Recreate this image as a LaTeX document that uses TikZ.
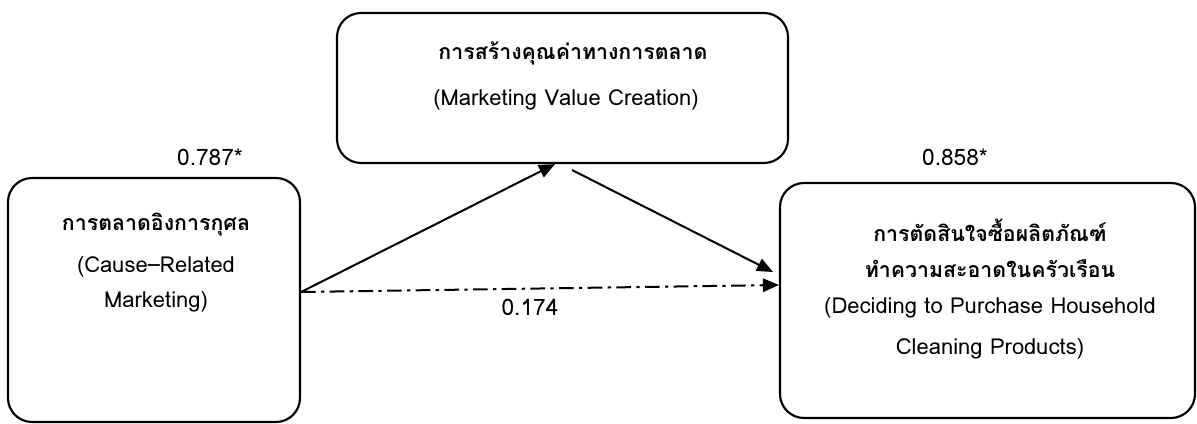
\documentclass[tikz,border=0pt]{standalone}
\usepackage{fontspec}
\setmainfont[Script=Thai]{Loma}
\usetikzlibrary{arrows.meta}
\begin{document}
\begin{tikzpicture}[x=0.75pt,y=-0.75pt,
  box/.style={draw,line width=1.6pt,rounded corners=18pt,inner sep=0pt},
  lbl/.style={font=\fontsize{17}{19}\selectfont,inner sep=0pt},
  th/.style={font=\bfseries\fontsize{16}{18}\selectfont,inner sep=0pt},
  en/.style={font=\fontsize{16.5}{18}\selectfont,inner sep=0pt},
  path/.style={line width=1.5pt,-{Triangle[length=12pt,width=10pt]}},
]
\useasboundingbox (0,0) rectangle (1197,424);

% the three constructs
\node[box,minimum width=292*0.75pt,minimum height=244*0.75pt] (crm) at (154,300) {};
\node[box,minimum width=451*0.75pt,minimum height=150*0.75pt] (mvc) at (562.5,88) {};
\node[box,minimum width=415*0.75pt,minimum height=235*0.75pt] (dec) at (987.5,300.5) {};

% texts inside the boxes
\node[th] (crmT) at (156,225) {การตลาดอิงการกุศล};
\node[en] (crmE1) at (156,267) {(Cause–Related};
\node[en] (crmE2) at (156,302) {Marketing)};

\node[th] (mvcT) at (573,53) {การสร้างคุณค่าทางการตลาด};
\node[en] (mvcE) at (566,100) {(Marketing Value Creation)};

\node[th] (decT1) at (990,230) {การตัดสินใจซื้อผลิตภัณฑ์};
\node[th] (decT2) at (990,269) {ทำความสะอาดในครัวเรือน};
\node[en] (decE1) at (990,308) {(Deciding to Purchase Household};
\node[en] (decE2) at (990,349) {Cleaning Products)};

% path end points
\coordinate (a0) at (crm.east |- 0,292);
\coordinate (a1) at (mvc.south -| 555,0);
\coordinate (b0) at (572,170);
\coordinate (b1) at (773,272);
\coordinate (c1) at (dec.west |- 0,285);

\draw[path] (a0) -- (a1);
\draw[path] (b0) -- (b1);
\draw[path,dash pattern=on 11pt off 4pt on 2.5pt off 4pt] (a0) -- (c1);

% path coefficients
\node[lbl] (p1) at (210,157) {0.787*};
\node[lbl] (p2) at (955,157) {0.858*};
\node[lbl] (p3) at (530,307) {0.174};
\end{tikzpicture}
\end{document}
